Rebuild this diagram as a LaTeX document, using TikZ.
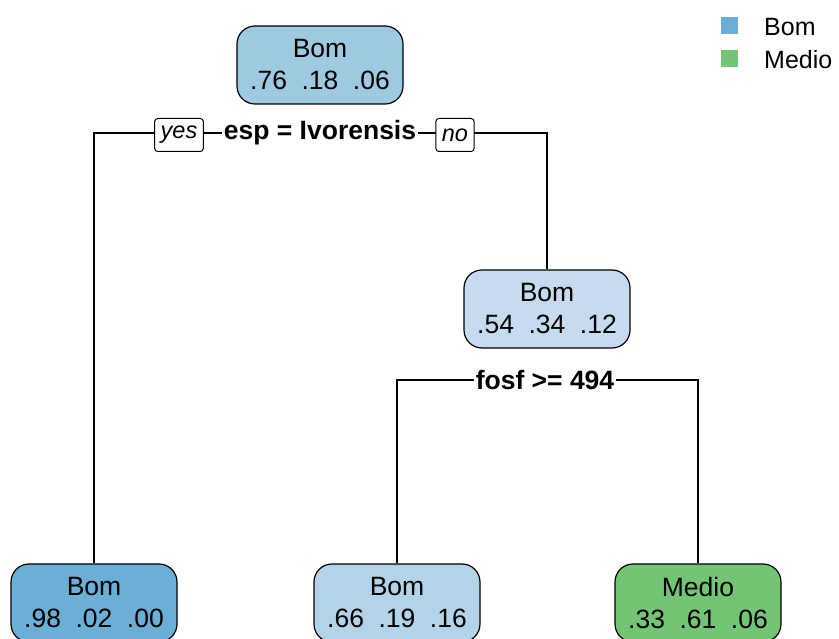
\documentclass[tikz,border=0pt]{standalone}
\usepackage{fontspec}
\setmainfont{Liberation Sans}
\definecolor{bomA}{HTML}{9ECAE1}
\definecolor{bomB}{HTML}{C6DBEF}
\definecolor{bomC}{HTML}{6BAED6}
\definecolor{bomD}{HTML}{B3D3E8}
\definecolor{medio}{HTML}{74C476}
\tikzset{
  leaf/.style={draw, line width=1.2pt, rounded corners=18pt, minimum width=166pt,
    minimum height=78pt, align=center, inner sep=2pt,
    font=\fontsize{26.5}{32}\selectfont},
  splitlbl/.style={fill=white, inner sep=2pt, font=\fontsize{26.5}{30}\selectfont\bfseries},
  yesno/.style={draw, fill=white, rounded corners=3pt, line width=1pt,
    minimum height=33pt, inner xsep=6pt, font=\fontsize{23.5}{26}\selectfont\itshape},
  key/.style={minimum size=17pt, inner sep=0pt},
  keytxt/.style={anchor=west, inner sep=0pt, font=\fontsize{25}{30}\selectfont}
}
\newcommand{\probs}[3]{#1\hspace{0.55em}#2\hspace{0.55em}#3}
\begin{document}
\begin{tikzpicture}[x=1pt,y=-1pt]
\useasboundingbox (0,0) rectangle (839,639);
\clip (0,0) rectangle (839,639);
% boxes
\node[leaf,fill=bomA] (root) at (320,65) {Bom\\\probs{.76}{.18}{.06}};
\node[leaf,fill=bomB] (right) at (547,309) {Bom\\\probs{.54}{.34}{.12}};
\node[leaf,fill=bomC] (leafa) at (94,603) {Bom\\\probs{.98}{.02}{.00}};
\node[leaf,fill=bomD] (leafb) at (397,603) {Bom\\\probs{.66}{.19}{.16}};
\node[leaf,fill=medio] (leafc) at (698,603) {Medio\\\probs{.33}{.61}{.06}};
% splits
\coordinate (sa) at (320,133);
\coordinate (sb) at (545,380);
\draw[line width=1.2pt] (leafa.north) |- (sa) -| (right.north);
\draw[line width=1.2pt] (leafb.north) |- (sb) -| (leafc.north);
\node[splitlbl] (qa) at (sa) {esp = Ivorensis};
\node[splitlbl] (qb) at (sb) {fosf >= 494};
\node[yesno] (yes) at (179,135) {yes};
\node[yesno] (no) at (455,135) {no};
% legend
\node[key,fill=bomC] (ka) at (729,26) {};
\node[key,fill=medio] (kb) at (729,59) {};
\node[keytxt] (ta) at (764,27) {Bom};
\node[keytxt] (tb) at (764,60) {Medio};
\end{tikzpicture}
\end{document}
